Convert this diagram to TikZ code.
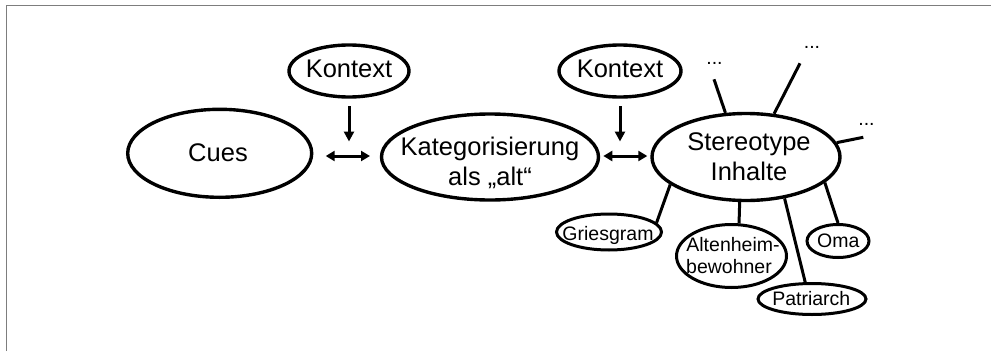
\documentclass[tikz,border=0pt]{standalone}
\usepackage{fontspec}
\setmainfont{Liberation Sans}
\usetikzlibrary{shapes.geometric,arrows.meta}

\definecolor{framegray}{RGB}{125,125,125}

\tikzset{
  bubble/.style={ellipse, draw=black, line width=3.4pt, inner sep=0pt},
  smallbubble/.style={ellipse, draw=black, line width=3pt, inner sep=0pt},
  bigtext/.style={inner sep=0pt, anchor=base, font=\fontsize{25.5}{30}\selectfont},
  smalltext/.style={inner sep=0pt, anchor=base, font=\fontsize{19.5}{22}\selectfont},
  link/.style={line width=3pt},
  influence/.style={line width=3pt, -{Triangle[length=10pt,width=10pt]}},
  mutual/.style={line width=3pt, {Triangle[length=9pt,width=10pt]}-{Triangle[length=9pt,width=10pt]}},
}

\begin{document}
\begin{tikzpicture}[x=1pt, y=-1pt]
  \useasboundingbox (0,0) rectangle (991,351);

  % frame along the top and left edges
  \draw[framegray, line width=1.6pt] (6.5,351) -- (6.5,5.5) -- (991,5.5);

  % main chain
  \node[bubble, minimum width=184pt, minimum height=88pt] (cues) at (219.7,153.3) {};
  \node[bubble, minimum width=217pt, minimum height=86pt] (kat) at (490,157) {};
  \node[bubble, minimum width=188pt, minimum height=87pt] (st) at (746,157) {};
  \node[bigtext] (cues-t) at (218,161.5) {Cues};
  \node[bigtext] (kat-t1) at (490,155) {Kategorisierung};
  \node[bigtext] (kat-t2) at (490,185) {als „alt“};
  \node[bigtext] (st-t1) at (749,150.7) {Stereotype};
  \node[bigtext] (st-t2) at (749,180.7) {Inhalte};

  % context nodes
  \node[bubble, minimum width=120pt, minimum height=52pt] (k1) at (349,71) {};
  \node[bubble, minimum width=122pt, minimum height=52pt] (k2) at (620,71) {};
  \node[bigtext] (k1-t) at (349,77.3) {Kontext};
  \node[bigtext] (k2-t) at (620,77) {Kontext};

  % arrow end points
  \coordinate (v1) at (349,141.5);
  \coordinate (v2) at (620,141.5);
  \coordinate (h1a) at (325.7,156);
  \coordinate (h1b) at (370,156);
  \coordinate (h2a) at (603.3,156);
  \coordinate (h2b) at (647.3,156);

  \draw[influence] (k1.south) ++(0,7.5) -- (v1);
  \draw[influence] (k2.south) ++(0,7.5) -- (v2);
  \draw[mutual] (h1a) -- (h1b);
  \draw[mutual] (h2a) -- (h2b);

  % stereotype contents
  \node[smallbubble, minimum width=105pt, minimum height=36pt] (gr) at (609,232) {};
  \node[smallbubble, minimum width=110pt, minimum height=63pt] (al) at (731.5,256) {};
  \node[smallbubble, minimum width=108pt, minimum height=31pt] (pa) at (812,299) {};
  \node[smallbubble, minimum width=62pt, minimum height=33pt] (om) at (838,241) {};
  \node[smalltext] (gr-t) at (608,240) {Griesgram};
  \node[smalltext] (al-t1) at (733,251.7) {Altenheim-};
  \node[smalltext] (al-t2) at (729,273.3) {bewohner};
  \node[smalltext] (pa-t) at (811.3,305) {Patriarch};
  \node[smalltext] (om-t) at (838.3,247.5) {Oma};

  \draw[link] (st.-160.3) -- (gr.11.4);
  \draw[link] (st.-98.7) -- (al.77.2);
  \draw[link] (st.-47.1) -- (pa.112);
  \draw[link] (st.-18.5) -- (om.90);

  % open-ended contents
  \coordinate (d1) at (714,79.3);
  \coordinate (d2) at (800,63.3);
  \coordinate (d3) at (863.3,137.3);
  \draw[link] (st.115.6) -- (d1);
  \draw[link] (st.57.4) -- (d2);
  \draw[link] (st.9.5) -- (d3);

  \node[smalltext] (m1) at (714.5,64) {...};
  \node[smalltext] (m2) at (812,48.5) {...};
  \node[smalltext] (m3) at (866.5,125.5) {...};
\end{tikzpicture}
\end{document}
